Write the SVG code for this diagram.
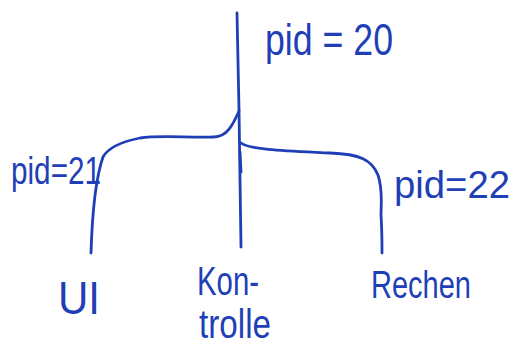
<svg xmlns="http://www.w3.org/2000/svg" width="517" height="353" viewBox="0 0 517 353">
<style>
.ln{fill:none;stroke:#1f3fb6;stroke-width:2.8;stroke-linecap:round;stroke-linejoin:round}
.t{fill:#1f3fb6;font-family:"Liberation Sans","DejaVu Sans",sans-serif}
</style>
<rect width="517" height="353" fill="#ffffff"/>
<g id="connectors">
<path class="ln" d="M237,13 L239,110 L241,247"/>
<path class="ln" d="M239,111 C234,122 228,137 214,137 C190,138 160,135 140,138 C120,142 108,148 103,157 C95,180 92,220 91,253"/>
<path class="ln" d="M241,143 C250,150 290,151 330,153 C360,154 372,160 378,175 C383,190 381,205 381,215 C382,230 382,245 382,253"/>
<path class="ln" d="M240,152 L241,172"/>
</g>
<g id="n-pid20"><text class="t" x="265" y="55" font-size="44" textLength="128" lengthAdjust="spacingAndGlyphs">pid = 20</text></g>
<g id="n-pid21"><text class="t" x="11" y="184" font-size="38" textLength="90" lengthAdjust="spacingAndGlyphs">pid=21</text></g>
<g id="n-pid22"><text class="t" x="394" y="198" font-size="38" textLength="116" lengthAdjust="spacingAndGlyphs">pid=22</text></g>
<g id="n-ui"><text class="t" x="58" y="314" font-size="46" textLength="42" lengthAdjust="spacingAndGlyphs">UI</text></g>
<g id="n-kontrolle"><text class="t" x="197" y="295" font-size="40" textLength="62" lengthAdjust="spacingAndGlyphs">Kon-</text><text class="t" x="199" y="338" font-size="40" textLength="72" lengthAdjust="spacingAndGlyphs">trolle</text></g>
<g id="n-rechen"><text class="t" x="371" y="298" font-size="38" textLength="100" lengthAdjust="spacingAndGlyphs">Rechen</text></g>
</svg>
